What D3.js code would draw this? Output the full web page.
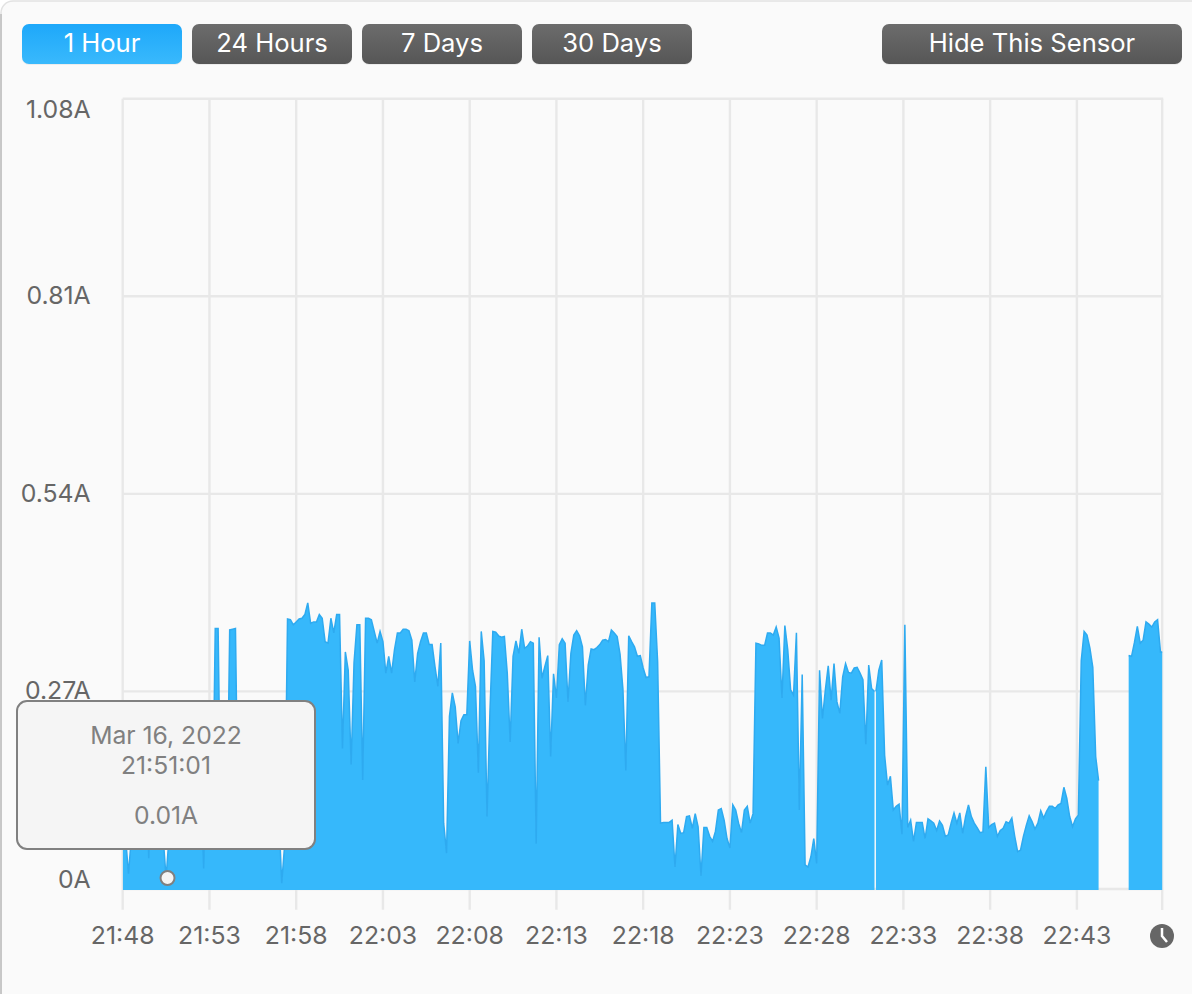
<!DOCTYPE html>
<html>
<head>
<meta charset="utf-8">
<script src="https://cdnjs.cloudflare.com/ajax/libs/d3/7.8.5/d3.min.js"></script>
<style>
  html, body { margin: 0; padding: 0; background: #fff; }
  svg { display: block; }
  text { font-family: Inter, "Noto Sans", sans-serif; }
</style>
</head>
<body>
<div id="graph"></div>
<script>
// Readings in amps, one every 10 seconds. The sensor dropped out twice so there are three runs.
const startA = 0;       // seconds after 21:48:00
const ampsA = [
  .25,.07,.021,.07,.22,.23,.22,.21,.20,.042,.20,.22,.22,.21,.07,.015,.07,.20,.22,.23,
  .22,.21,.22,.23,.22,.21,.20,.15,.028,.18,.22,.06,.356,.356,.06,.22,.06,.354,.355,.356,
  .06,.20,.21,.22,.21,.20,.21,.22,.21,.20,.21,.22,.20,.15,.10,.008,.06,
  .369,.368,.361,.365,.369,.370,.375,.391,.363,.365,.365,.375,.370,.338,.336,.370,.350,.375,.375,.192,
  .324,.299,.170,.309,.361,.361,.149,.370,.370,.368,.352,.336,.352,.338,.295,.318,.295,.327,.350,
  .350,.355,.355,.353,.340,.283,.322,.338,.350,.350,.334,.334,.304,.277,.336,.090,.049,.236,.268,.249,
  .199,.230,.238,.238,.339,.299,.277,.159,.352,.312,.099,.242,.352,.351,.346,.344,.345,.295,.201,.318,
  .339,.322,.355,.329,.332,.338,.336,.062,.344,.288,.304,.319,.181,.294,.261,.334,.342,.336,.256,.322,
  .347,.353,.346,.331,.251,.306,.328,.327,.330,.334,.340,.341,.338,.354,.350,.345,.321,.273,.162,.346,
  .338,.331,.318,.319,.302,.289,.290,.391,.391,.311,.090,.091,.091,.091,.094,.030,.088,.076,.077,.099,
  .100,.083,.103,.085,.018,.084,.084,.072,.065,.079,.108,.110,.094,.069,.056,.115,.108,.090,.077,.108,
  .113,.090,.103,.336,.335,.333,.333,.350,.350,.347,.358,.343,.261,.360,.327,.272,.265,.350,.108,
  .293,.033,.030,.044,.069,.035,.299,.233,.272,.305,.258,.308,.256,.240,.290,.308,.296,.295,.302,.303,
  .295,.286,.198,.306,.274,.270
];
const startB = 2605;
const ampsB = [
  .270,.299,.313,.183,.142,.154,.108,.113,.116,.075,.361,.084,.094,.065,.091,.091,.091,.069,.096,.093,
  .090,.080,.093,.087,.072,.074,.090,.104,.090,.104,.076,.099,.115,.099,.090,.084,.077,.078,.167,.084,
  .088,.090,.072,.080,.083,.092,.090,.097,.072,.051,.053,.072,.087,.100,.092,.082,.090,.107,.097,.106,
  .113,.113,.110,.115,.117,.139,.124,.099,.085,.096,.101,.312,.352,.347,.329,.303,.181,.148
];
const startC = 3479;
const ampsC = [.319,.318,.337,.359,.336,.340,.365,.362,.358,.365,.368,.324,.324];
const runs = [[startA, ampsA], [startB, ampsB], [startC, ampsC]];

const endSeconds = 3595;
const xTickLabels = ['21:48','21:53','21:58','22:03','22:08','22:13','22:18','22:23','22:28','22:33','22:38','22:43'];
const xExtraGrid = endSeconds;
const yTicks = [0, 0.27, 0.54, 0.81, 1.08];
const rangeButtons = ['1 Hour', '24 Hours', '7 Days', '30 Days'];
const hideButton = 'Hide This Sensor';
const hover = { seconds: 155, amps: 0.015, lines: ['Mar 16, 2022', '21:51:01', '0.01A'] };

const width = 1192, height = 994;
const toDate = s => new Date(2022, 2, 16, 21, 48, s);

const x = d3.scaleTime().domain([toDate(0), toDate(endSeconds)]).range([122.7, 1162.2]);
const y = d3.scaleLinear().domain([0, 1.08]).range([889, 98.7]);

const svg = d3.select('#graph').append('svg')
  .attr('width', width)
  .attr('height', height);

// window background, the corner of it shows at the top left
svg.append('rect').attr('x', 1).attr('y', 1)
  .attr('width', width + 20).attr('height', height + 20).attr('rx', 12)
  .attr('fill', '#fafafa').attr('stroke', '#e2e2e2').attr('stroke-width', 1.5);
svg.append('line').attr('x1', 1).attr('x2', 1).attr('y1', 14).attr('y2', height)
  .attr('stroke', '#bdbdbd').attr('stroke-width', 1.5);

const defs = svg.append('defs');
const addGradient = (id, top, bottom) => {
  const g = defs.append('linearGradient').attr('id', id).attr('x1', 0).attr('y1', 0).attr('x2', 0).attr('y2', 1);
  g.append('stop').attr('offset', 0).attr('stop-color', top);
  g.append('stop').attr('offset', 1).attr('stop-color', bottom);
};
addGradient('btnOn', '#1ea8fa', '#39b9fc');
addGradient('btnOff', '#6c6c6c', '#565656');
defs.append('clipPath').attr('id', 'plotClip').append('rect')
  .attr('x', x.range()[0]).attr('y', 0)
  .attr('width', x.range()[1] - x.range()[0]).attr('height', height);

// buttons
function button(label, left, w, on) {
  const g = svg.append('g');
  g.append('rect').attr('x', left).attr('y', 25).attr('width', w).attr('height', 40).attr('rx', 7)
    .attr('fill', '#ececec');
  g.append('rect').attr('x', left).attr('y', 24).attr('width', w).attr('height', 40).attr('rx', 7)
    .attr('fill', on ? 'url(#btnOn)' : 'url(#btnOff)');
  g.append('text').attr('x', left + w / 2).attr('y', 52)
    .attr('text-anchor', 'middle').attr('font-size', 25.6).attr('fill', '#fff').text(label);
}
rangeButtons.forEach((b, i) => button(b, 22 + i * 170, 160, i === 0));
button(hideButton, 882, 300, false);

// grid
const gridColor = '#e8e8e8';
const labelColor = '#666';
const xTickDates = xTickLabels.map((_, i) => toDate(i * 300));

const xAxis = svg.append('g')
  .attr('transform', `translate(0,${y.range()[1]})`)
  .call(d3.axisBottom(x)
    .tickValues(xTickDates)
    .tickFormat((d, i) => xTickLabels[i])
    .tickSize(811)
    .tickPadding(17)
    .offset(0));
xAxis.select('.domain').remove();
xAxis.selectAll('line').attr('stroke', gridColor).attr('stroke-width', 2.4);
xAxis.selectAll('text').attr('font-size', 24.8).attr('fill', labelColor);

svg.append('line')
  .attr('x1', x(toDate(xExtraGrid))).attr('x2', x(toDate(xExtraGrid)))
  .attr('y1', y.range()[1]).attr('y2', 910)
  .attr('stroke', gridColor).attr('stroke-width', 2.4);

const yAxis = svg.append('g')
  .attr('transform', `translate(${x.range()[0]},0)`)
  .call(d3.axisLeft(y)
    .tickValues(yTicks)
    .tickFormat(d => d + 'A')
    .tickSize(0)
    .tickPadding(32)
    .offset(0));
yAxis.select('.domain').remove();
yAxis.selectAll('text').attr('font-size', 24.8).attr('fill', labelColor)
  .attr('dy', d => d === 1.08 ? '0.78em' : d === 0 ? '-0.05em' : '0.32em');
yAxis.selectAll('.tick').append('line')
  .attr('x1', 0).attr('x2', x.range()[1] - x.range()[0] + 1)
  .attr('stroke', gridColor).attr('stroke-width', 2.4);

// series
const area = d3.area()
  .x(d => x(d.t))
  .y0(y(0) + 1)
  .y1(d => y(d.v));
const line = d3.line()
  .x(d => x(d.t))
  .y(d => y(d.v));

const series = svg.append('g').attr('clip-path', 'url(#plotClip)');
runs.forEach(([start, amps]) => {
  const pts = amps.map((v, i) => ({ t: toDate(start + i * 10), v }));
  series.append('path').datum(pts).attr('d', area).attr('fill', '#36b8fb');
  series.append('path').datum(pts).attr('d', line)
    .attr('fill', 'none').attr('stroke', '#2eaaf0').attr('stroke-width', 1.5);
});

// hover marker and tooltip
svg.append('circle')
  .attr('cx', x(toDate(hover.seconds))).attr('cy', y(hover.amps)).attr('r', 7)
  .attr('fill', '#f5f5f5').attr('stroke', '#808080').attr('stroke-width', 2);

const tip = svg.append('g');
tip.append('rect').attr('x', 17).attr('y', 701).attr('width', 298).attr('height', 148).attr('rx', 10)
  .attr('fill', '#f5f5f5').attr('stroke', '#808080').attr('stroke-width', 2);
[744, 774, 824].forEach((base, i) => {
  tip.append('text').attr('x', 166).attr('y', base)
    .attr('text-anchor', 'middle').attr('font-size', 24.7).attr('fill', '#808080')
    .text(hover.lines[i]);
});

// clock icon at the end of the time axis
const clock = svg.append('g').attr('transform', 'translate(1162,936)');
clock.append('circle').attr('r', 12).attr('fill', '#666');
clock.append('path').attr('d', 'M0,-8V0L5,6')
  .attr('fill', 'none').attr('stroke', '#fff').attr('stroke-width', 2.5);
</script>
</body>
</html>
